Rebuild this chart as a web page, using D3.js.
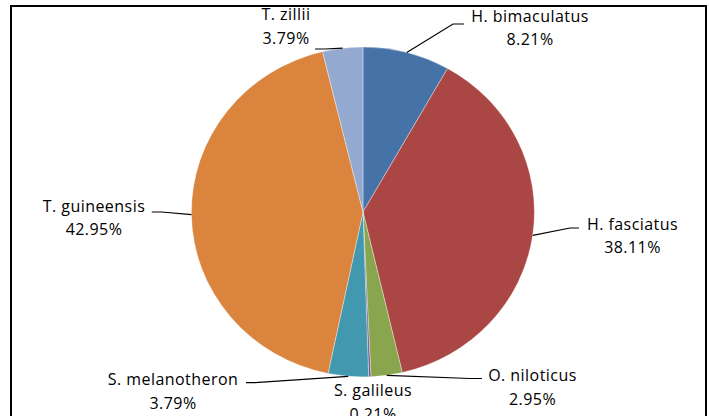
<!DOCTYPE html>
<html><head><meta charset="utf-8">
<script src="https://cdn.jsdelivr.net/npm/d3@7"></script>
<style>
html,body{margin:0;padding:0;background:#fff;}
svg{display:block;}
text{font-family:"Open Sans",sans-serif;font-size:16px;fill:#000;letter-spacing:0.45px;}
</style></head>
<body>
<svg id="chart" width="709" height="416"></svg>
<script>
// ---- data ----
const species = ["H. bimaculatus","H. fasciatus","O. niloticus","S. galileus","S. melanotheron","T. guineensis","T. zillii"];
const percents = [8.21, 38.11, 2.95, 0.21, 3.79, 42.95, 3.79];
const percentLabels = ["8.21%","38.11%","2.95%","0.21%","3.79%","42.95%","3.79%"];
const colors = ["#4572A7","#AA4643","#89A54E","#71588F","#4198AF","#DB843D","#93A9CF"];

// ---- layout (label placement) ----
const labelX = [530, 632.5, 532.5, 373, 173, 94, 286];
const labelY = [21.7, 229.5, 381, 396, 385, 211.5, 20];
// leader: elbow point and end point (null = no leader)
const leaderElbow = [[453,24],[570,228],[470,378.5],null,[255,382.7],[161.7,212],[325,49]];
const leaderEnd   = [[464,24],[579,228],[482,378.5],null,[246,382.7],[151.7,212],[315,49]];

const svg = d3.select("#chart");
const W = 709, H = 416;
const cx = 363, cy = 212, rx = 171.5, ry = 165;

// frame
svg.append("path")
  .attr("d", `M11,${H} L11,6 L706,6 L706,${H}`)
  .attr("fill","none").attr("stroke","#000").attr("stroke-width",2);

const pie = d3.pie().sort(null).value(d => d.v);
const arcs = pie(species.map((s,i)=>({name:s, v:percents[i], i})));
const arcUnit = d3.arc().innerRadius(0).outerRadius(1);
const onEdge = d3.arc().innerRadius(1).outerRadius(1);

const g = svg.append("g").attr("transform",`translate(${cx},${cy}) scale(${rx},${ry})`);
g.selectAll("path.slice").data(arcs).join("path")
  .attr("class","slice")
  .attr("d", arcUnit)
  .attr("fill", d => colors[d.data.i])
  .attr("stroke","#fff").attr("stroke-opacity",0.6)
  .attr("stroke-width",0.6).attr("vector-effect","non-scaling-stroke");

// leaders
const line = d3.line();
arcs.forEach(d => {
  const i = d.data.i;
  if (!leaderElbow[i]) return;
  const c = onEdge.centroid(d);
  const a = [cx + c[0]*rx, cy + c[1]*ry];
  svg.append("path")
    .attr("d", line([a, leaderElbow[i], leaderEnd[i]]))
    .attr("fill","none").attr("stroke","#000").attr("stroke-width",1.2);
});

// labels
species.forEach((s,i) => {
  const t = svg.append("text").attr("text-anchor","middle");
  t.append("tspan").attr("x", labelX[i]).attr("y", labelY[i]).text(s);
  t.append("tspan").attr("x", labelX[i]).attr("y", labelY[i] + 23.5).text(percentLabels[i]);
});
</script>
</body></html>
